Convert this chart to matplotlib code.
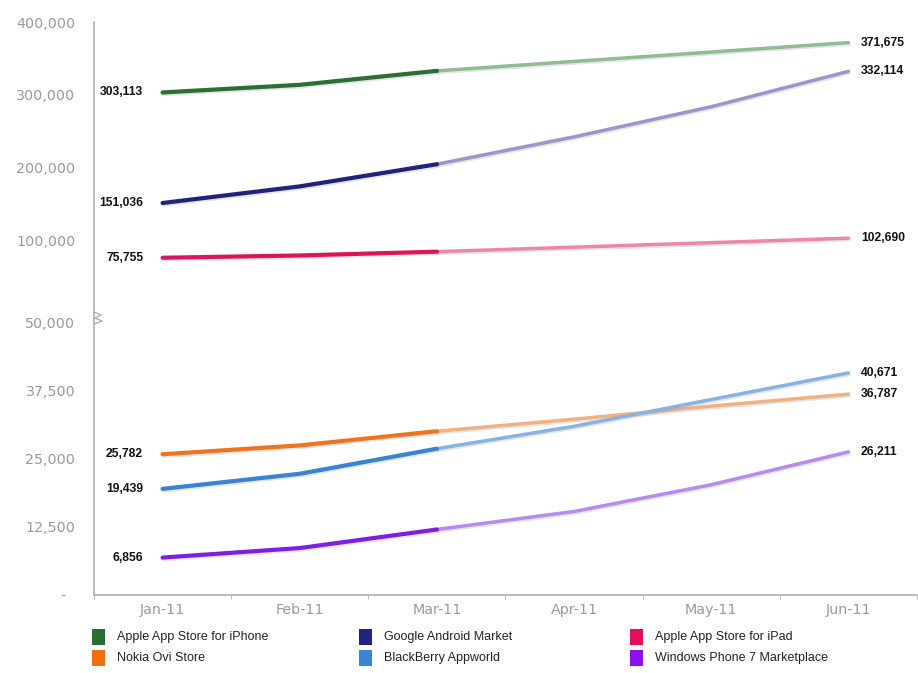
import matplotlib
matplotlib.use('Agg')
import matplotlib.pyplot as plt
import matplotlib.patheffects as pe
from matplotlib.patches import Rectangle
from matplotlib.lines import Line2D


months = ['Jan-11', 'Feb-11', 'Mar-11', 'Apr-11', 'May-11', 'Jun-11']

iphone = [303113, 313600, 332800, 345800, 358700, 371675]
android = [151036, 173900, 204400, 242000, 283500, 332114]
ipad = [75755, 78900, 84100, 90300, 96500, 102690]
nokia = [25782, 27400, 30000, 32200, 34600, 36787]
blackberry = [19439, 22200, 26800, 30900, 35800, 40671]
wp7 = [6856, 8600, 12000, 15300, 20200, 26211]

names = ['Apple App Store for iPhone', 'Google Android Market', 'Apple App Store for iPad',
         'Nokia Ovi Store', 'BlackBerry Appworld', 'Windows Phone 7 Marketplace']
series = [iphone, android, ipad, nokia, blackberry, wp7]
dark = ['#2b6e36', '#22227a', '#d9165d', '#ee7422', '#3b82d1', '#7f1fe0']
light = ['#93bb93', '#9d95c9', '#ec86aa', '#f1b183', '#86b3e3', '#b88af0']
swatch = ['#2a6e33', '#232380', '#e0105a', '#f07010', '#3a85d8', '#8a10f0']

W, H = 918, 673
fig = plt.figure(figsize=(W / 100, H / 100), dpi=100)

# broken y axis: big stores on top, small ones below
ax_top = fig.add_axes([94 / W, (H - 319) / H, 823 / W, 297 / H])
ax_bot = fig.add_axes([94 / W, (H - 595) / H, 823 / W, 276 / H])

x = list(range(len(months)))
label_font = dict(family=['Liberation Sans Narrow', 'Liberation Sans'], weight='bold',
                  size=8.7, color='#111111')
shadow = [pe.SimpleLineShadow(offset=(0.6, -1.2), shadow_color='#999999', alpha=0.25),
          pe.Normal()]

for i, vals in enumerate(series):
    ax = ax_top if i < 3 else ax_bot
    ax.plot(x[2:], vals[2:], color=light[i], lw=2.5, solid_capstyle='round',
            path_effects=shadow, zorder=2)
    ax.plot(x[:3], vals[:3], color=dark[i], lw=3.0, solid_capstyle='round',
            path_effects=shadow, zorder=3)
    ax.annotate(f'{vals[0]:,}', (x[0], vals[0]), xytext=(-14, 0),
                textcoords='offset points', ha='right', va='center', **label_font)
    ax.annotate(f'{vals[-1]:,}', (x[-1], vals[-1]), xytext=(9, 0),
                textcoords='offset points', ha='left', va='center', **label_font)

tick_font = dict(family='DejaVu Sans', size=10.3, color='#9a9a9a')

for ax in (ax_top, ax_bot):
    ax.set_xlim(-0.5, 5.5)
    for s in ('top', 'right'):
        ax.spines[s].set_visible(False)
    ax.spines['left'].set_color('#b0b0b0')
    ax.spines['left'].set_linewidth(1.2)

ax_top.set_ylim(-8500, 400000)
top_ticks = [100000, 200000, 300000, 400000]
ax_top.set_yticks(top_ticks)
ax_top.set_yticklabels([f'{v:,}' for v in top_ticks], **tick_font)
ax_top.tick_params(axis='y', length=0, pad=13.5)
ax_top.spines['bottom'].set_visible(False)
ax_top.set_xticks([])

ax_bot.set_ylim(0, 50550)
bot_ticks = [0, 12500, 25000, 37500, 50000]
ax_bot.set_yticks(bot_ticks)
ax_bot.set_yticklabels(['-  '] + [f'{v:,}' for v in bot_ticks[1:]], **tick_font)
ax_bot.tick_params(axis='y', length=0, pad=13.5)
ax_bot.spines['bottom'].set_color('#b0b0b0')
ax_bot.spines['bottom'].set_linewidth(1.2)
ax_bot.set_xticks(x)
ax_bot.set_xticklabels(months, **tick_font)
ax_bot.set_xticks([v - 0.5 for v in range(len(months) + 1)], minor=True)
ax_bot.tick_params(axis='x', which='major', length=0, pad=6)
ax_bot.tick_params(axis='x', which='minor', length=3, color='#b0b0b0', direction='out')

# zigzag break marker on the y axis
zx = [94, 101, 95, 102, 94]
zy = [312, 315, 318, 321, 324]
fig.add_artist(Line2D([v / W for v in zx], [(H - v) / H for v in zy],
                      color='#b0b0b0', lw=1.0))

# legend laid out in three columns, two rows
col_x = [92, 359, 630]
row_y = [637, 658]
order = [(0, 0), (1, 0), (2, 0), (0, 1), (1, 1), (2, 1)]
for i, (c, r) in enumerate(order):
    fig.add_artist(Rectangle((col_x[c] / W, (H - row_y[r] - 8) / H), 13 / W, 16 / H,
                             transform=fig.transFigure, color=swatch[i], lw=0))
    fig.text((col_x[c] + 25) / W, (H - row_y[r]) / H, names[i], ha='left', va='center',
             family='Liberation Sans', size=9, color='#222222')

fig.savefig('out.png', dpi=100)
